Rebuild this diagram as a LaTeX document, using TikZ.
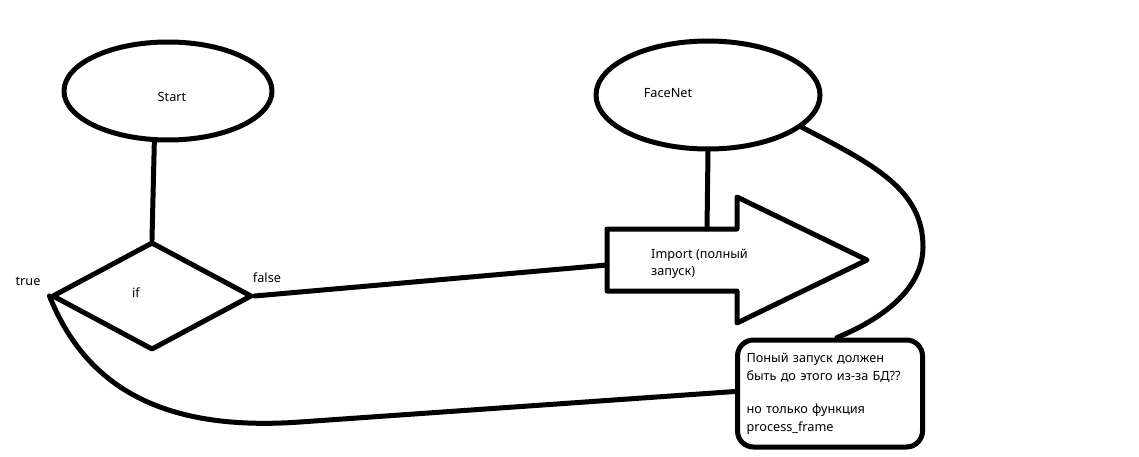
\documentclass[tikz,border=0pt]{standalone}
\usepackage{fontspec}
\setmainfont{Noto Sans}
\usetikzlibrary{shapes.geometric,calc}
\begin{document}
\begin{tikzpicture}[x=1pt,y=-1pt,
  stroke/.style={line width=5pt,line join=round,line cap=round},
  lbl/.style={font=\fontsize{12.7}{17}\selectfont,text=black,inner sep=0pt},
  oval/.style={stroke,draw,ellipse,inner sep=0pt},
  conn/.style={stroke,draw}]
\fill[white] (0,0) rectangle (1139,457);
\useasboundingbox (0,0) rectangle (1139,457);

% Start ellipse
\node[oval,minimum width=208pt,minimum height=98pt] (start) at (168,91) {};
\node[lbl] (startlbl) at (172,97) {Start};

% FaceNet ellipse
\node[oval,minimum width=224pt,minimum height=108pt] (fn) at (708,95) {};
\node[lbl] (fnlbl) at (668,93) {FaceNet};

% decision diamond
\node[stroke,draw,diamond,inner sep=0pt,minimum width=200pt,minimum height=108pt] (if) at (152,296) {};
\node[lbl] (iflbl) at (136,293) {if};
\node[lbl] (truelbl) at (28,281) {true};
\node[lbl] (falselbl) at (267,278) {false};

% block arrow (Import)
\coordinate (aTL) at (607,229);
\coordinate (aBL) at (607,291);
\coordinate (aST) at (737,229);
\coordinate (aSB) at (737,291);
\coordinate (aHT) at (737,197);
\coordinate (aHB) at (737,323);
\coordinate (aTip) at (867,260);
\coordinate (impIn) at (607,265);
\coordinate (impTop) at (707,229);
\draw[stroke] (aTL) -- (aST) -- (aHT) -- (aTip) -- (aHB) -- (aSB) -- (aBL) -- cycle;
\node[lbl,anchor=west,align=left] (imp) at (651,263.5) {Import (полный\\запуск)};

% note box
\node[stroke,draw,rectangle,rounded corners=16pt,minimum width=185pt,minimum height=107pt,
      text width=167pt,inner xsep=9pt,align=left,
      font=\fontsize{12.7}{18}\selectfont] (box) at (830,393.5)
  {Поный запуск должен\\быть до этого из-за БД??\\[15pt]но только функция\\process\_frame};

% connectors
\draw[conn] (start.255) -- (if.north);
\draw[conn] (if.east) -- (impIn);
\draw[conn] (fn.south) -- (impTop);
\coordinate (rmax) at (923,247);
\draw[conn] (fn.341) .. controls (875,165) and (923,190) .. (rmax)
  .. controls (923,290) and (880,320) .. ($(box.north)+(7,0)$);
\coordinate (low) at (300,422);
\draw[conn] (if.west) .. controls (85,385) and (160,432) .. (low) -- ($(box.west)+(0,-2)$);
\end{tikzpicture}
\end{document}
